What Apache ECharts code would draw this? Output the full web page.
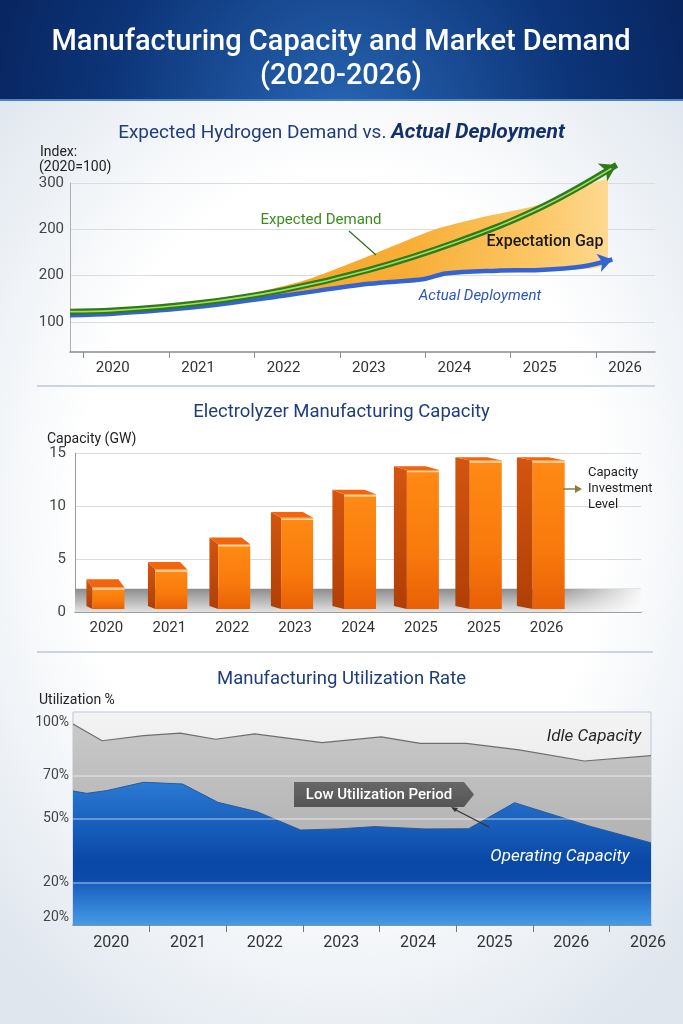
<!DOCTYPE html>
<html>
<head>
<meta charset="utf-8">
<script src="https://cdn.jsdelivr.net/npm/echarts@6.0.0/dist/echarts.min.js"></script>
<style>
  html, body { margin: 0; padding: 0; }
  body { background: radial-gradient(ellipse 70% 60% at 50% 50%, #ffffff 55%, #dfe6ee 100%); }
  #chart { width: 683px; height: 1024px; }
</style>
</head>
<body>
<div id="chart"></div>
<script>
// ---- chart 1: expected demand vs actual deployment (index, 2020 = 100)
const years = [2020, 2021, 2022, 2023, 2024, 2025, 2026];
const indexTickValues = [100, 167, 233, 300];
const indexTickLabels = ['100', '200', '200', '300'];
const expectedYears = [2019.5, 2020, 2021, 2022, 2023, 2024, 2025, 2025.9];
const expectedValues = [115, 116.5, 127, 146, 175, 214, 264, 326];
const actualYears = [2019.5, 2020, 2021, 2022, 2023, 2023.65, 2023.9, 2024.5, 2025, 2025.5, 2025.85];
const actualValues = [110, 112, 122, 138, 155, 162, 170, 174, 175, 180, 190];
const gapYears = [2021.5, 2022.25, 2023.06, 2023.77, 2024.3, 2025, 2025.8];
const gapTop = [136, 160, 198, 233, 250, 269, 306];
const gapBottom = [130, 143, 156, 166, 172, 175, 186];

// ---- chart 2: electrolyzer manufacturing capacity (GW)
const capYears = ['2020', '2021', '2022', '2023', '2024', '2025', '2025', '2026'];
const capValues = [2.3, 4.0, 6.4, 8.9, 11.1, 13.4, 14.3, 14.3];
const floorLevel = 2.2;

// ---- chart 3: manufacturing utilization rate (%)
const utilYears = ['2020', '2021', '2022', '2023', '2024', '2025', '2026', '2026'];
const utilTickValues = [0, 20, 50, 70, 100];
const utilTickLabels = ['20%', '20%', '50%', '70%', '100%'];
const utilGridValues = [20, 50, 70];
const idleT = [0, 0.38, 0.92, 1.40, 1.86, 2.37, 3.25, 4.02, 4.53, 5.13, 5.82, 6.67, 7.54];
const idleTop = [94.4, 86.5, 88.9, 90.1, 87.2, 89.7, 85.6, 88.3, 85.3, 85.3, 82.2, 77.0, 79.5];
const opsT = [0, 0.18, 0.44, 0.92, 1.43, 1.89, 2.40, 2.97, 3.45, 3.94, 4.59, 5.16, 5.76, 6.41, 6.73, 7.54];
const opsValues = [62.9, 61.8, 63.1, 67.0, 66.2, 57.6, 53.2, 44.6, 45.1, 46.2, 45.1, 45.2, 57.4, 50.1, 46.5, 38.6];

const FONT = 'Roboto, "Noto Sans", sans-serif';
const NAVY = '#1f3d7a';

const pairs = (xs, ys) => xs.map((x, i) => [x, ys[i]]);
const lin = (x, y, x2, y2, stops) => ({ type: 'linear', x, y, x2, y2, colorStops: stops.map(([offset, color]) => ({ offset, color })) });

function withArrow(data, rotate, size) {
  const last = data[data.length - 1];
  data[data.length - 1] = { value: last, symbol: 'arrow', symbolSize: size, symbolRotate: rotate };
  return data;
}

function text(x, y, str, opts) {
  return {
    type: 'text', x, y, z: 100,
    style: Object.assign({
      text: str, font: '14px ' + FONT, fill: '#222',
      textAlign: 'center', textVerticalAlign: 'middle', align: 'center', verticalAlign: 'middle'
    }, opts || {})
  };
}

// orange band between the expected and actual curves
function renderGap(params, api) {
  if (params.dataIndex !== 0) return null;
  const top = gapYears.map((x, i) => api.coord([x, gapTop[i]]));
  const bottom = gapYears.map((x, i) => api.coord([x, gapBottom[i]])).reverse();
  const pts = top.concat(bottom);
  const xs = pts.map(p => p[0]), ys = pts.map(p => p[1]);
  return {
    type: 'polygon',
    shape: { points: pts, smooth: 0.25,
      smoothConstraint: [[Math.min(...xs), Math.min(...ys)], [Math.max(...xs), Math.max(...ys)]] },
    style: { fill: lin(0, 0, 1, 0, [[0, '#f5a01a'], [0.45, '#f7a92a'], [0.8, '#fbc35c'], [1, '#fdd78a']]), opacity: 0.95 }
  };
}

function renderBar(params, api) {
  const i = api.value(0);
  const v = api.value(1);
  const top = api.coord([i, v]);
  const base = api.coord([i, 0]);
  const fw = 32;
  const sw = 6 + i * 1.4;
  const depth = 3 + (15 - v) * 0.42;
  const xl = top[0] - fw / 2 + 2, xr = xl + fw;
  const yt = top[1], yb = base[1] - 3;
  return {
    type: 'group',
    children: [
      { type: 'polygon', shape: { points: [[xl - sw, yt - depth], [xl, yt], [xl, yb], [xl - sw, yb - 3]] },
        style: { fill: lin(0, 0, 0, 1, [[0, '#d4550f'], [1, '#b03f06']]) } },
      { type: 'polygon', shape: { points: [[xl - sw, yt - depth], [xr - sw, yt - depth], [xr, yt], [xl, yt]] },
        style: { fill: '#f3650c' } },
      { type: 'rect', shape: { x: xl, y: yt, width: fw, height: yb - yt },
        style: { fill: lin(0, 0, 0, 1, [[0, '#ff8a14'], [0.6, '#f87a0c'], [1, '#e95f06']]) } },
      { type: 'line', shape: { x1: xl, y1: yt + 1.5, x2: xr, y2: yt + 1.5 },
        style: { stroke: 'rgba(255,226,190,0.95)', lineWidth: 1.5 } }
    ]
  };
}

function renderFloor(params, api) {
  const cs = params.coordSys;
  const yTop = api.coord([0, api.value(1)])[1];
  const h = cs.y + cs.height - yTop;
  return {
    type: 'group',
    children: [
      { type: 'rect', shape: { x: cs.x, y: yTop, width: cs.width, height: h },
        style: { fill: lin(0, 0, 0, 1, [[0, '#8c8c8c'], [0.5, '#b6b6b6'], [1, '#e2e2e2']]) } },
      { type: 'rect', shape: { x: cs.x, y: yTop, width: cs.width, height: h },
        style: { fill: lin(0, 0, 1, 0, [[0, 'rgba(255,255,255,0)'], [0.84, 'rgba(255,255,255,0)'], [1, 'rgba(255,255,255,0.92)']]) } }
    ]
  };
}

// the outer utilization labels sit a little inside the plot edges in the original
function utilLabel(v) {
  const label = utilTickLabels[utilTickValues.indexOf(v)];
  if (v === 100) return '{top|' + label + '}';
  if (v === 0) return '{bot|' + label + '}';
  return label;
}

const axisText = { color: '#333', fontFamily: FONT, fontSize: 15 };
const utilRich = {
  top: { fontSize: 14, color: '#444', fontFamily: FONT, padding: [20, 0, 0, 0] },
  bot: { fontSize: 14, color: '#444', fontFamily: FONT, padding: [0, 0, 16, 0] }
};

const option = {
  animation: false,
  textStyle: { fontFamily: FONT },
  title: [
    { text: '{a|Expected Hydrogen Demand vs. }{b|Actual Deployment}', left: 'center', top: 120, padding: 0,
      textStyle: { fontWeight: 'normal', rich: {
        a: { fontSize: 19, color: NAVY, fontFamily: FONT, fontWeight: 'normal', lineHeight: 26 },
        b: { fontSize: 21, color: '#13306a', fontFamily: FONT, fontStyle: 'italic', fontWeight: 'bold', lineHeight: 26 }
      } } },
    { text: 'Electrolyzer Manufacturing Capacity', left: 'center', top: 400, padding: 0,
      textStyle: { fontSize: 18.5, color: NAVY, fontFamily: FONT, fontWeight: 'normal', lineHeight: 24 } },
    { text: 'Manufacturing Utilization Rate', left: 'center', top: 667, padding: 0,
      textStyle: { fontSize: 18.5, color: NAVY, fontFamily: FONT, fontWeight: 'normal', lineHeight: 24 } }
  ],
  grid: [
    { left: 70, right: 28, top: 183, height: 169, outerBoundsMode: 'none' },
    { left: 75, right: 42, top: 453, height: 159, outerBoundsMode: 'none' },
    { left: 73, right: 32, top: 712, height: 213, outerBoundsMode: 'none', show: true,
      backgroundColor: lin(0, 0, 0, 1, [[0, '#f3f3f3'], [1, '#dcdcdc']]), borderColor: '#b9c7db', borderWidth: 1 }
  ],
  xAxis: [
    { type: 'value', gridIndex: 0, min: 2019.5, max: 2026.35,
      axisLine: { lineStyle: { color: '#8a8a8a', width: 1.5 } },
      axisTick: { show: true, length: 6, customValues: years.map(y => y - 0.34), lineStyle: { color: '#8a8a8a' } },
      axisLabel: Object.assign({ customValues: years, margin: 9, formatter: v => String(v) }, axisText),
      splitLine: { show: false } },
    { type: 'category', gridIndex: 1, data: [...capYears, ''],
      axisLine: { lineStyle: { color: '#8a8a8a', width: 1.5 } },
      axisTick: { show: false },
      axisLabel: Object.assign({ interval: 0, margin: 9 }, axisText) },
    { type: 'value', gridIndex: 2, min: 0, max: 7.54,
      axisLine: { lineStyle: { color: '#777', width: 1.5 } },
      axisTick: { show: true, length: 7, customValues: utilYears.slice(1).map((_, i) => i + 1), lineStyle: { color: '#777' } },
      axisLabel: Object.assign({ customValues: utilYears.map((_, i) => i + 0.5), margin: 10,
        formatter: v => utilYears[Math.floor(v)] }, axisText, { fontSize: 16 }),
      splitLine: { show: false } }
  ],
  yAxis: [
    { type: 'value', gridIndex: 0, min: 57, max: 300,
      axisLine: { show: true, lineStyle: { color: '#b0b0b0' } },
      axisTick: { show: false, customValues: indexTickValues },
      axisLabel: Object.assign({ customValues: indexTickValues, margin: 6,
        formatter: v => indexTickLabels[indexTickValues.indexOf(v)] }, axisText, { color: '#444' }),
      splitLine: { show: true, lineStyle: { color: '#d9dce1', width: 1.2 } } },
    { type: 'value', gridIndex: 1, min: 0, max: 15, interval: 5,
      axisLine: { show: true, lineStyle: { color: '#9a9a9a' } },
      axisTick: { show: false },
      axisLabel: Object.assign({ margin: 9 }, axisText, { color: '#444' }),
      splitLine: { show: true, lineStyle: { color: '#d7dae0', width: 1.2 } } },
    { type: 'value', gridIndex: 2, min: 0, max: 100,
      axisLine: { show: false },
      axisTick: { show: false, customValues: utilGridValues },
      axisLabel: Object.assign({ customValues: utilTickValues, margin: 4, formatter: utilLabel, rich: utilRich },
        axisText, { fontSize: 14, color: '#444' }),
      splitLine: { show: false } }
  ],
  series: [
    { name: 'Expectation Gap', type: 'custom', xAxisIndex: 0, yAxisIndex: 0, silent: true,
      renderItem: renderGap, data: pairs(gapYears, gapTop), z: 2 },
    { name: 'Expected Demand', type: 'line', xAxisIndex: 0, yAxisIndex: 0, smooth: 0.4, clip: false,
      symbol: 'none', lineStyle: { color: '#2f7a1a', width: 6 }, itemStyle: { color: '#2f7a1a' },
      data: withArrow(pairs(expectedYears, expectedValues), -62, [15, 16]), z: 4 },
    { name: 'Expected Demand (inner)', type: 'line', xAxisIndex: 0, yAxisIndex: 0, smooth: 0.4, clip: false,
      symbol: 'none', silent: true, lineStyle: { color: '#a3dc64', width: 1.6 },
      data: pairs(expectedYears.slice(0, -1).concat([2025.84]), expectedValues.slice(0, -1).concat([321])), z: 5 },
    { name: 'Actual Deployment', type: 'line', xAxisIndex: 0, yAxisIndex: 0, smooth: 0.35, clip: false,
      symbol: 'none', lineStyle: { color: '#3464d4', width: 4.5 }, itemStyle: { color: '#3464d4' },
      data: withArrow(pairs(actualYears, actualValues), -76, [14, 14]), z: 3 },

    { name: 'floor', type: 'custom', xAxisIndex: 1, yAxisIndex: 1, silent: true,
      renderItem: renderFloor, data: [[0, floorLevel]], z: 1 },
    { name: 'Capacity', type: 'custom', xAxisIndex: 1, yAxisIndex: 1,
      renderItem: renderBar, data: capValues.map((v, i) => [i, v]), z: 3 },

    { name: 'Idle Capacity', type: 'line', xAxisIndex: 2, yAxisIndex: 2, symbol: 'none',
      lineStyle: { color: '#6e6e6e', width: 1.2 },
      areaStyle: { origin: 'start', opacity: 1, color: lin(0, 0, 0, 1, [[0, '#c8c8c8'], [0.5, '#b6b6b6'], [1, '#a8a8a8']]) },
      data: pairs(idleT, idleTop), z: 2 },
    { name: 'Operating Capacity', type: 'line', xAxisIndex: 2, yAxisIndex: 2, symbol: 'none',
      lineStyle: { color: '#2a5a9e', width: 1 },
      areaStyle: { origin: 'start', opacity: 1,
        color: lin(0, 0, 0, 1, [[0, '#2a7ad4'], [0.55, '#0a48a6'], [0.68, '#0a4aa8'], [0.72, '#1c62c0'], [1, '#449be6']]) },
      markLine: { silent: true, symbol: 'none', label: { show: false },
        lineStyle: { color: 'rgba(255,255,255,0.45)', type: 'solid', width: 1.5 },
        data: utilGridValues.map(v => ({ yAxis: v })) },
      data: pairs(opsT, opsValues), z: 3 }
  ],
  graphic: [
    { type: 'rect', shape: { x: 0, y: 0, width: 683, height: 101 }, z: -1,
      style: { fill: { type: 'radial', x: 341, y: 120, r: 430, global: true,
        colorStops: [{ offset: 0, color: '#2866b3' }, { offset: 0.55, color: '#0c3478' }, { offset: 1, color: '#061d52' }] } } },
    { type: 'rect', shape: { x: 0, y: 99, width: 683, height: 2 }, z: -1, style: { fill: '#4a84c6' } },
    text(341, 43, 'Manufacturing Capacity and Market Demand', { font: '500 29px ' + FONT, fill: '#ffffff' }),
    text(341, 77, '(2020-2026)', { font: '500 29px ' + FONT, fill: '#ffffff' }),

    { type: 'rect', shape: { x: 37, y: 385, width: 618, height: 2 }, style: { fill: '#cdd4dd' } },
    { type: 'rect', shape: { x: 37, y: 651, width: 616, height: 2 }, style: { fill: '#cdd4dd' } },

    text(40, 152, 'Index:', { textAlign: 'left', align: 'left', fill: '#222' }),
    text(39, 167, '(2020=100)', { textAlign: 'left', align: 'left', fill: '#222' }),
    text(321, 220, 'Expected Demand', { font: '15px ' + FONT, fill: '#3d8d1e' }),
    { type: 'line', z: 100, shape: { x1: 349, y1: 231, x2: 376, y2: 255 }, style: { stroke: '#2e6b1a', lineWidth: 1.2 } },
    text(545, 242, 'Expectation Gap', { font: '500 16px ' + FONT, fill: '#1a1a1a' }),
    text(480, 296, 'Actual Deployment', { font: 'italic 15px ' + FONT, fill: '#2a55c0' }),

    text(47, 439, 'Capacity (GW)', { textAlign: 'left', align: 'left', fill: '#222' }),
    text(588, 473, 'Capacity', { textAlign: 'left', align: 'left', font: '13px ' + FONT, fill: '#1e1e1e' }),
    text(588, 489, 'Investment', { textAlign: 'left', align: 'left', font: '13px ' + FONT, fill: '#1e1e1e' }),
    text(588, 505, 'Level', { textAlign: 'left', align: 'left', font: '13px ' + FONT, fill: '#1e1e1e' }),
    { type: 'line', z: 100, shape: { x1: 563, y1: 489, x2: 576, y2: 489 }, style: { stroke: '#8a7d3c', lineWidth: 1.5 } },
    { type: 'polygon', z: 100, shape: { points: [[575, 485], [582, 489], [575, 493]] }, style: { fill: '#8a7d3c' } },

    text(39, 700, 'Utilization %', { textAlign: 'left', align: 'left', fill: '#222' }),
    text(594, 737, 'Idle Capacity', { font: 'italic 17px ' + FONT, fill: '#262626' }),
    text(560, 857, 'Operating Capacity', { font: 'italic 17px ' + FONT, fill: '#ffffff' }),
    { type: 'polygon', z: 100, shape: { points: [[294, 782], [464, 782], [474, 794.5], [464, 807], [294, 807]] },
      style: { fill: lin(0, 0, 0, 1, [[0, '#676767'], [1, '#555555']]) } },
    text(379, 795, 'Low Utilization Period', { font: '500 15px ' + FONT, fill: '#ffffff' }),
    { type: 'line', z: 100, shape: { x1: 454, y1: 809, x2: 489, y2: 827 }, style: { stroke: '#333', lineWidth: 1.2 } },
    { type: 'polygon', z: 100, shape: { points: [[451, 807], [458, 808], [455, 812]] }, style: { fill: '#333' } }
  ]
};

const chart = echarts.init(document.getElementById('chart'));
chart.setOption(option);
</script>
</body>
</html>
